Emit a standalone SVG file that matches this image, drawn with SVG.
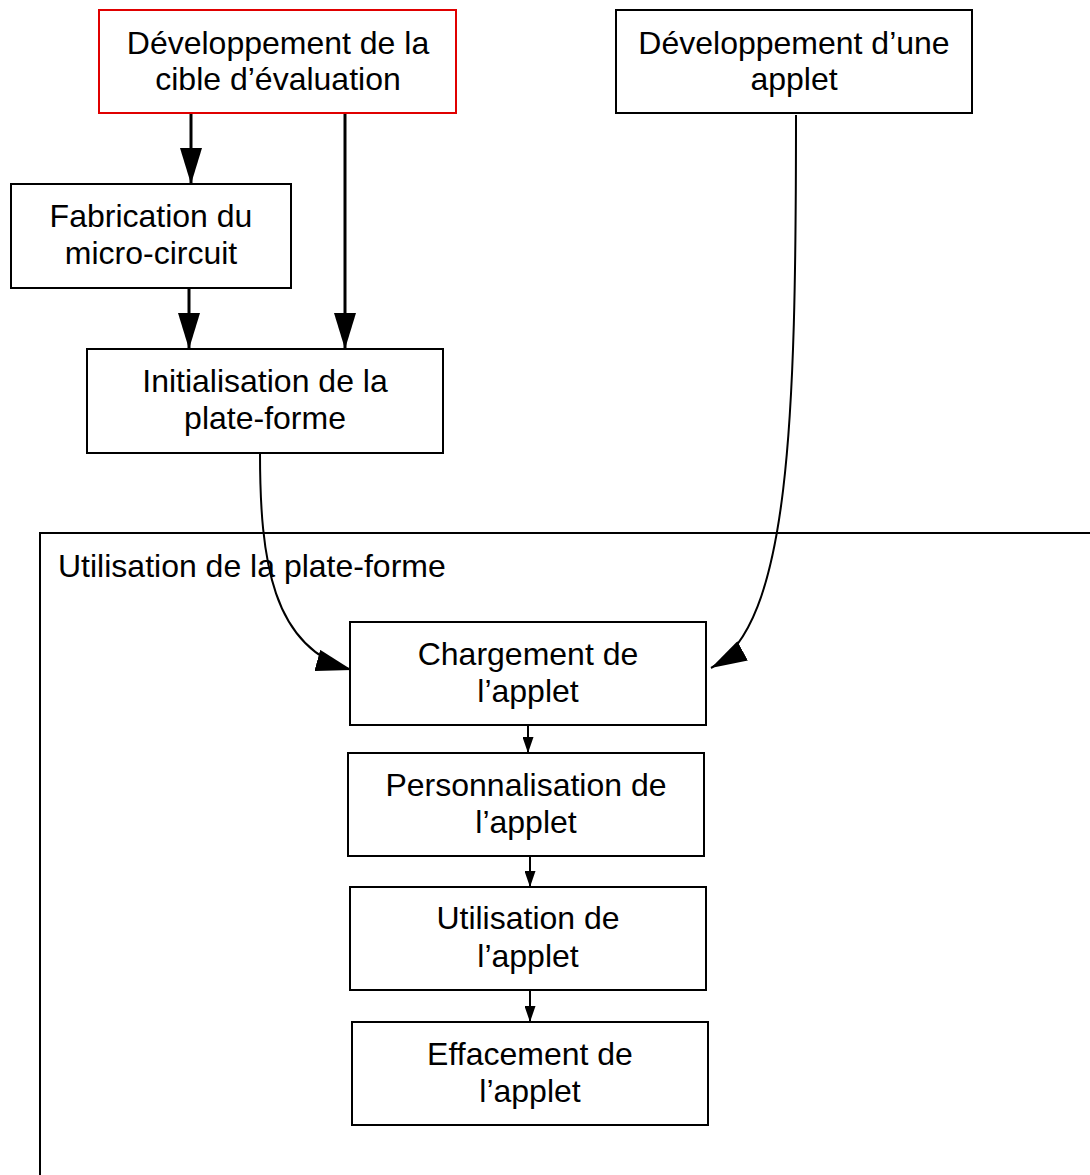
<svg xmlns="http://www.w3.org/2000/svg" width="1090" height="1175" viewBox="0 0 1090 1175">
<style>
.box{fill:#fff;stroke:#000;stroke-width:2}
.red{stroke:#e00000}
.t{font-family:"Liberation Sans",Arial,sans-serif;font-size:32px;fill:#000;text-anchor:middle}
.lbl{font-family:"Liberation Sans",Arial,sans-serif;font-size:32px;fill:#000}
.c3{fill:none;stroke:#000;stroke-width:3}
.c2{fill:none;stroke:#000;stroke-width:2}
</style>
<defs>
<marker id="big" markerUnits="userSpaceOnUse" markerWidth="36" markerHeight="22" refX="36" refY="11" orient="auto" viewBox="0 0 36 22"><path d="M0,0 L36,11 L0,22 Z" fill="#000"/></marker>
<marker id="small" markerUnits="userSpaceOnUse" markerWidth="16" markerHeight="11" refX="16" refY="5.5" orient="auto" viewBox="0 0 16 11"><path d="M0,0 L16,5.5 L0,11 Z" fill="#000"/></marker>
</defs>
<g id="container"><rect x="40" y="533" width="1070" height="680" class="box"/><text x="58" y="577" class="lbl">Utilisation de la plate-forme</text></g>
<g id="connectors">
<path d="M191,113 L191,184" class="c3" marker-end="url(#big)"/>
<path d="M345,113 L345,349" class="c3" marker-end="url(#big)"/>
<path d="M189,288 L189,349" class="c3" marker-end="url(#big)"/>
<path d="M260,453 C260,560 272,648 352,670" class="c2" marker-end="url(#big)"/>
<path d="M796,115 C796,420 790,625 711,668" class="c2" marker-end="url(#big)"/>
<path d="M528,725 L528,753" class="c2" marker-end="url(#small)"/>
<path d="M530,856 L530,887" class="c2" marker-end="url(#small)"/>
<path d="M530,990 L530,1022" class="c2" marker-end="url(#small)"/>
</g>
<g id="dev-cible"><rect x="99" y="10" width="357" height="103" class="box red"/><text class="t" x="278" y="54">Développement de la</text><text class="t" x="278" y="90">cible d’évaluation</text></g>
<g id="dev-applet"><rect x="616" y="10" width="356" height="103" class="box"/><text class="t" x="794" y="54">Développement d’une</text><text class="t" x="794" y="90">applet</text></g>
<g id="fabrication"><rect x="11" y="184" width="280" height="104" class="box"/><text class="t" x="151" y="227">Fabrication du</text><text class="t" x="151" y="264">micro-circuit</text></g>
<g id="initialisation"><rect x="87" y="349" width="356" height="104" class="box"/><text class="t" x="265" y="392">Initialisation de la</text><text class="t" x="265" y="429">plate-forme</text></g>
<g id="chargement"><rect x="350" y="622" width="356" height="103" class="box"/><text class="t" x="528" y="665">Chargement de</text><text class="t" x="528" y="702">l’applet</text></g>
<g id="personnalisation"><rect x="348" y="753" width="356" height="103" class="box"/><text class="t" x="526" y="796">Personnalisation de</text><text class="t" x="526" y="833">l’applet</text></g>
<g id="utilisation"><rect x="350" y="887" width="356" height="103" class="box"/><text class="t" x="528" y="929">Utilisation de</text><text class="t" x="528" y="967">l’applet</text></g>
<g id="effacement"><rect x="352" y="1022" width="356" height="103" class="box"/><text class="t" x="530" y="1065">Effacement de</text><text class="t" x="530" y="1102">l’applet</text></g>
</svg>
